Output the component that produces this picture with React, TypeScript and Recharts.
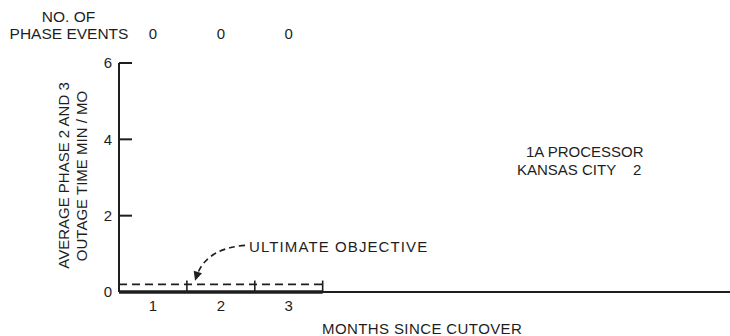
import React from "react";
import { LineChart, Line, XAxis, YAxis, ReferenceLine, ReferenceDot } from "recharts";

// months since cutover, monthly outage (min/mo) and phase event counts
const months = [1, 2, 3];
const outage = [0, 0, 0];
const phaseEvents = [0, 0, 0];
const objective = 0.2;
const yTicks = [0, 2, 4, 6];
const xDomain = [0, 9];

const INK = "#1e1e1e";
const FONT = "'Liberation Sans', Arial, Helvetica, sans-serif";

// each month drawn as a flat segment across its width
const steps = months.flatMap((m, i) => [
  { x: m - 1, v: outage[i] },
  { x: m, v: outage[i] },
]);

const YTick = (props: any) => {
  const { x, y, payload } = props;
  return (
    <g>
      <line x1={x} x2={x + 13} y1={y} y2={y} stroke={INK} strokeWidth={2} />
      <text x={x - 7} y={y} dy="0.36em" textAnchor="end" fontSize={15} fill={INK} fontFamily={FONT}>
        {payload.value}
      </text>
    </g>
  );
};

const ObjectiveArrow = (props: any) => {
  const { cx, cy } = props;
  const tx = cx;
  const ty = cy - 3.5;
  return (
    <g>
      <path
        d={`M ${cx + 50} ${cy - 39} Q ${cx + 12} ${cy - 36} ${tx + 2} ${ty - 6}`}
        fill="none"
        stroke={INK}
        strokeWidth={1.6}
        strokeDasharray="6 4"
      />
      <path d={`M ${tx} ${ty} L ${tx + 7} ${ty - 7.5} L ${tx - 1.3} ${ty - 10} Z`} fill={INK} />
      <text x={cx + 54} y={cy - 32} fontSize={15} fill={INK} fontFamily={FONT} letterSpacing={1.1}>
        ULTIMATE OBJECTIVE
      </text>
    </g>
  );
};

export default function App() {
  return (
    <div style={{ position: "absolute", left: 0, top: 0, width: 730, height: 336, background: "#fff", fontFamily: FONT }}>
      <LineChart width={730} height={336} data={steps} margin={{ top: 0, right: 0, bottom: 0, left: 0 }}>
        <XAxis
          xAxisId="top"
          orientation="top"
          dataKey="x"
          type="number"
          domain={xDomain}
          height={63}
          ticks={months.map((m) => m - 0.5)}
          tickFormatter={(v: number) => String(phaseEvents[months.indexOf(v + 0.5)])}
          axisLine={false}
          tickLine={false}
          tickSize={0}
          tickMargin={24}
          tick={{ fontSize: 15, fill: INK }}
        />
        <XAxis
          dataKey="x"
          type="number"
          domain={xDomain}
          height={44}
          ticks={months.map((m) => m - 0.5)}
          tickFormatter={(v: number) => String(v + 0.5)}
          axisLine={{ stroke: INK, strokeWidth: 2 }}
          tickLine={false}
          tickSize={0}
          tickMargin={8}
          tick={{ fontSize: 15, fill: INK }}
        />
        <YAxis
          type="number"
          domain={[0, 6]}
          ticks={yTicks}
          width={119}
          axisLine={{ stroke: INK, strokeWidth: 2 }}
          tickLine={false}
          tickSize={0}
          tickMargin={0}
          tick={<YTick />}
        />
        <ReferenceLine
          segment={[{ x: 0, y: objective }, { x: months[months.length - 1], y: objective }]}
          stroke={INK}
          strokeWidth={1.6}
          strokeDasharray="8 5"
          ifOverflow="visible"
        />
        {months.map((m) => (
          <ReferenceLine
            key={m}
            segment={[{ x: m, y: 0 }, { x: m, y: 0.3 }]}
            stroke={INK}
            strokeWidth={1.6}
            ifOverflow="visible"
          />
        ))}
        <ReferenceDot x={1.12} y={objective} ifOverflow="visible" shape={<ObjectiveArrow />} />
        <Line
          dataKey="v"
          type="linear"
          stroke={INK}
          strokeWidth={3.5}
          dot={false}
          isAnimationActive={false}
        />
      </LineChart>
      <svg width={730} height={336} style={{ position: "absolute", left: 0, top: 0, pointerEvents: "none" }}>
        <g fontFamily={FONT} fontSize={15} fill={INK}>
          <text x={68.5} y={22} textAnchor="middle" fontSize={15.5}>NO. OF</text>
          <text x={69} y={39} textAnchor="middle" fontSize={15.5}>PHASE EVENTS</text>
          <text x={526} y={157}>1A PROCESSOR</text>
          <text x={517} y={175}>
            KANSAS CITY<tspan x={633}>2</tspan>
          </text>
          <text x={322} y={334} letterSpacing={0.4}>MONTHS SINCE CUTOVER</text>
          <text x={63.5} y={175.5} textAnchor="middle" dominantBaseline="central" transform="rotate(-90 63.5 175.5)">
            AVERAGE PHASE 2 AND 3
          </text>
          <text x={81.5} y={176} textAnchor="middle" dominantBaseline="central" transform="rotate(-90 81.5 176)">
            OUTAGE TIME MIN / MO
          </text>
        </g>
      </svg>
    </div>
  );
}
